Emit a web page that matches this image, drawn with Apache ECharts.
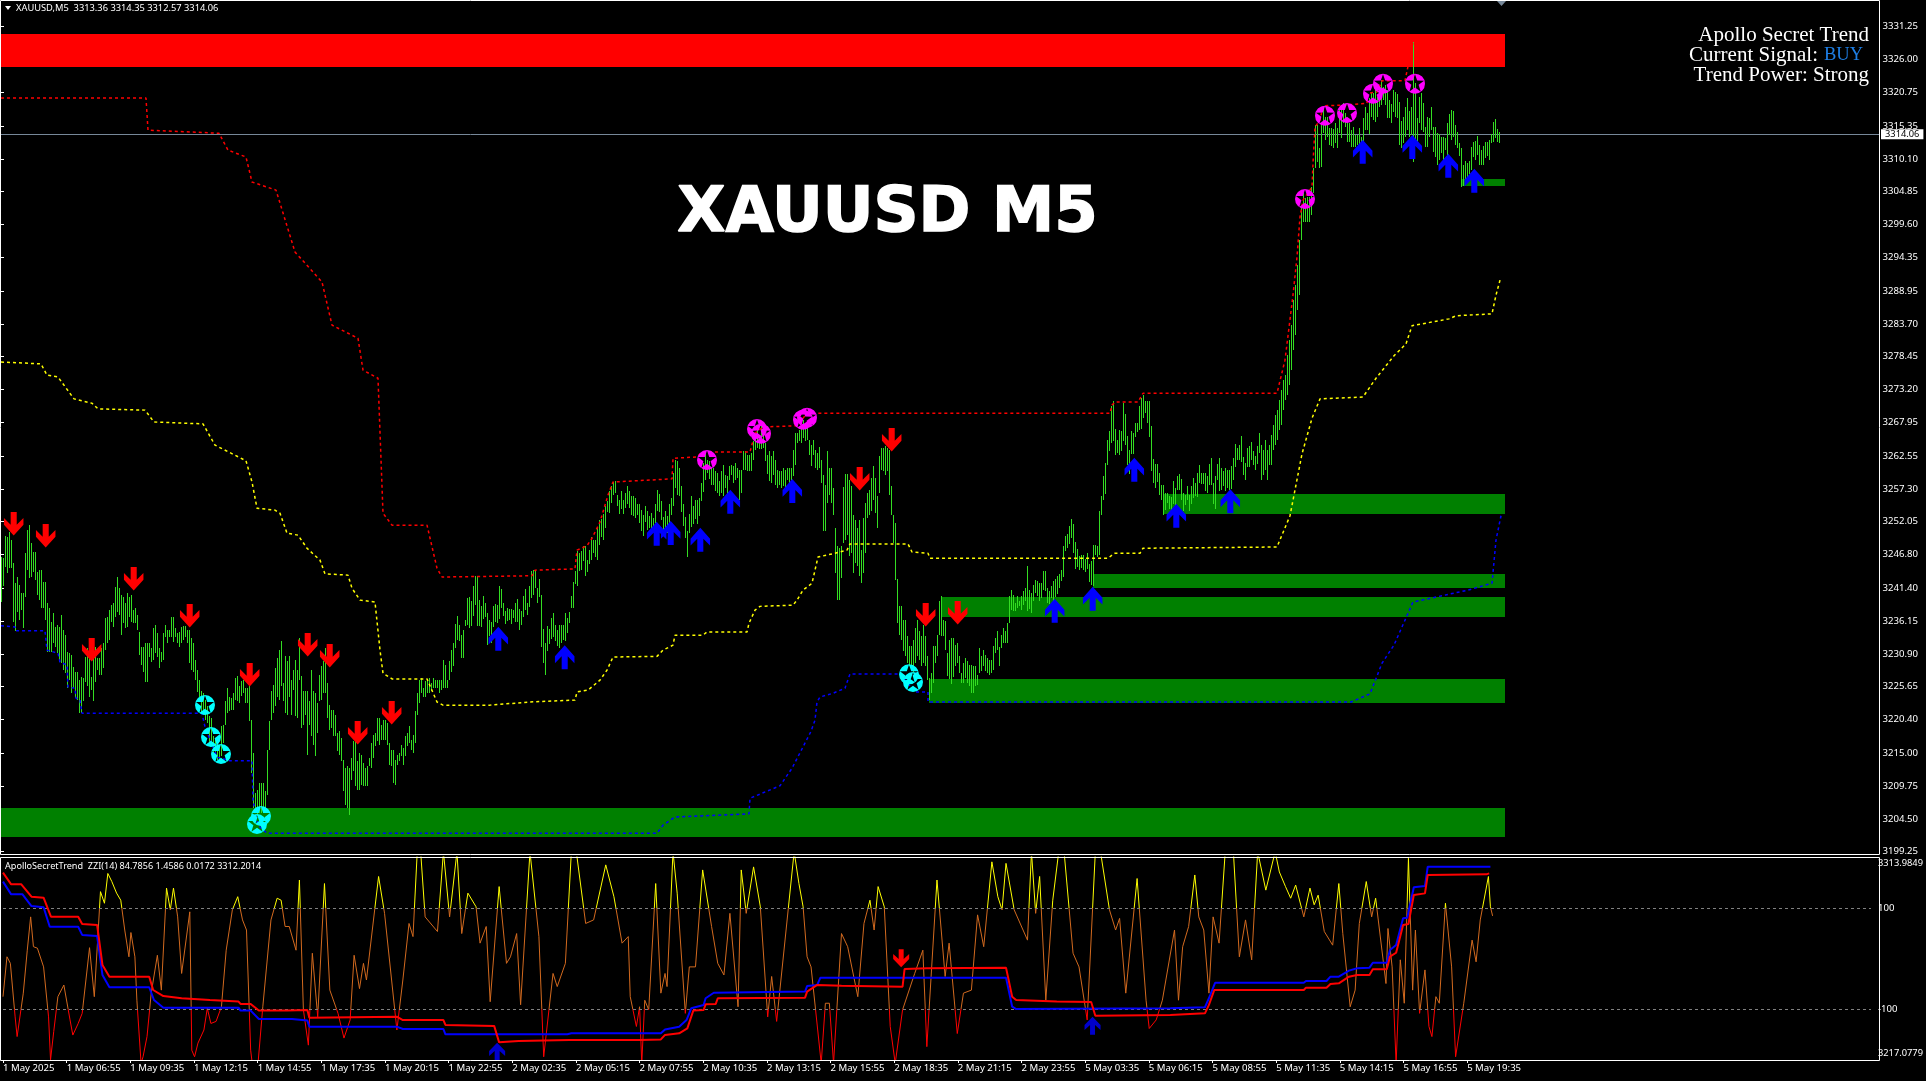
<!DOCTYPE html>
<html><head><meta charset="utf-8">
<style>html,body{margin:0;padding:0;background:#000}#c{width:1926px;height:1081px}</style>
<script src="https://cdn.jsdelivr.net/npm/echarts@6/dist/echarts.min.js"></script>
</head><body><div id="c"></div>
<script>
const priceBase = 3200;
const priceTicks = [3331.25,3326.00,3320.75,3315.35,3310.10,3304.85,3299.60,3294.35,3288.95,3283.70,3278.45,3273.20,3267.95,3262.55,3257.30,3252.05,3246.80,3241.40,3236.15,3230.90,3225.65,3220.40,3215.00,3209.75,3204.50,3199.25];
const timeLabels = ['1 May 2025','1 May 06:55','1 May 09:35','1 May 12:15','1 May 14:55','1 May 17:35','1 May 20:15','1 May 22:55','2 May 02:35','2 May 05:15','2 May 07:55','2 May 10:35','2 May 13:15','2 May 15:55','2 May 18:35','2 May 21:15','2 May 23:55','5 May 03:35','5 May 06:15','5 May 08:55','5 May 11:35','5 May 14:15','5 May 16:55','5 May 19:35'];
const barsPerLabel = 32;
// bar highs and lows, as price minus priceBase, one per M5 bar
const highs = [46.4,46.3,49.7,49.6,50.4,49.1,45.4,42.2,43.2,41.9,40.6,40.6,47,50.7,51.5,48.6,47.2,47.2,44,44.3,44.3,42.4,42.4,39,38.2,36,37.4,35.2,35.5,35.2,37.1,34.7,
33.9,31.2,31,30.7,28.8,28,28,26.7,27.2,27.1,30.4,31.8,30.2,27.2,31.5,32,30.2,30.2,31.8,32.6,36.6,36.8,37.9,38.7,39,41.6,43.2,41.4,40.3,40,39,40.6,
40,40.3,37.9,38.2,37.1,34.4,32,32,32.6,32.6,32.6,31.8,35,35.5,34.2,31.8,31.2,34.2,35.5,34.7,34.7,36.8,36.8,35,34.2,34.4,35.2,35.4,35.4,34.7,34.7,33.4,
32.6,29.9,28.4,26.7,24.9,24.6,23.5,22.5,20.9,20.6,17.7,17.1,16.6,16.3,19.3,19.5,23.3,25.4,24,23.8,24.6,27,27.3,25.7,26.5,26.7,25.4,25.4,25.7,20.3,15,8.6,
9.1,10.2,10.2,10.2,8.9,15.5,20.1,24.9,25.9,28.6,30.2,31.5,32.9,26.2,30.5,29.7,30.5,26.7,28.3,29.9,28.3,33.4,27.3,24.9,24.9,24.9,23.3,28.3,24.9,24.6,23,27.5,
28.9,29.7,31.8,26.2,22.7,21.9,21.9,21.1,18.2,18.5,17.4,13.9,12.6,12.9,12.6,14.2,16.9,17.1,13.7,15,14.7,13.4,12.6,12.9,14.2,16.6,17.9,18.2,20.6,20.6,19.5,20.3,
20.3,19.8,16.6,15.5,15.5,13.9,14.7,15,16.3,15.8,17.7,18.2,19.3,17.1,17.9,21.7,24.6,26.7,27,25.4,26.5,26.7,27,26.2,27,26.7,26.7,26.7,26.7,29.9,29.1,26.7,
29.7,31.5,32.6,35.7,36.9,35.5,33.9,34.7,36.3,39.8,40,39.3,41.7,43.3,43.3,39.5,38.6,40.2,39.1,37.4,36.3,36,38.6,38.9,38.7,41.8,41.3,39,37.7,38.3,38.1,38.1,
37.9,39,39.7,38.1,37.8,40.2,41.3,39,41.8,44.1,44.3,44.3,41.4,42.9,40.4,34.9,32.6,35.4,34.9,36.7,37.5,35.5,34.7,35.5,35.5,35.5,37.5,36.7,37.6,40.1,42.4,44.1,
47.3,47,47.3,48.1,48.2,46,47.5,49.6,49.1,49.1,51.2,52.3,52.5,53.3,54.5,55.3,56.9,57.7,58.4,58.5,56.3,55.6,57,55.6,56.6,57.8,56.9,56.1,56.1,55.8,54.9,54.9,
53.9,53.1,54.6,53.7,52.9,53.5,52.6,54.9,57.1,56.5,55.4,52.8,53.8,52.9,54.9,55.8,59.8,61.9,61.7,60.6,57.7,54.9,52.8,50.6,53.3,56.2,54.5,55.6,55.6,55.9,58.3,61.5,
63.3,61.9,61.7,60.6,60.6,60.1,59.8,58.6,60.1,61.1,59.5,59.3,60.9,61.1,60.9,61.4,60.6,60.3,60.3,63.3,63.3,62.7,62.7,63,64.9,66.2,67.5,65.7,67.3,66.2,64.6,62.7,
63.3,62.5,63.3,61.9,60.3,60.1,60.1,60.6,60.3,60.6,60.6,60.6,63.5,66.2,66.2,66.7,67.5,68.3,67,67,65.1,64.3,65.1,63.5,63,64,61.9,59.5,57.9,63.3,60.6,60.6,
57.4,51,48.1,47.8,48.1,57.6,59.7,59.7,58.7,57.7,53.1,52.3,51,52.3,47.5,52.6,55,56.6,57.1,59,60.9,59,56.1,62.5,63.8,63.8,64.1,63.8,63.5,57.7,53.1,51.8,
42.8,38.5,38.5,36.3,36.3,33.7,32.1,32.2,33.1,35,36.3,34.5,33.7,35.5,33.7,30.5,27,27.8,32.1,32.1,33.9,39.3,40.1,36.3,36.1,31,33.1,33.5,33.5,32.3,32.6,30.5,
27.8,29.4,30.2,29.7,29.1,29.1,28.9,28.9,27.5,31.8,30.5,31.5,30.7,30.2,29.9,29.9,32.1,33.4,34.5,32,33.9,35,34.5,35.8,40.1,41.1,40.3,39,40.1,39.3,40.1,40.9,
41.4,44.9,41.2,40.6,41.9,42.7,42.5,42.2,42.2,44.2,44.2,41.4,41,41.7,42.6,42.9,43.4,43.7,44.3,48.2,49.7,50.1,51.4,52.5,51.7,48.8,47.7,46.5,46.7,46.7,46.1,47.1,
45.3,45.7,48.3,48.3,48.2,53.7,56.2,59.4,61.5,65.1,66.6,70.5,71.3,66.8,65.1,66.7,66.6,71.1,69.3,65.7,63.5,66.5,66.3,67.8,67.9,70.5,71.8,72.3,71.4,71.4,71.4,67.3,
62.1,61.3,61.3,59.9,57.9,57.9,56.6,56.6,56.2,56,58.5,57.4,59.4,59.7,58.9,56.7,56.3,57.7,56.3,57.8,59,58.2,59.9,61.1,59.9,59.9,59.8,59.4,61.3,62.2,58.2,59.4,
61.3,62.2,60.6,60.1,60.6,60.3,60.3,61,62.2,64.5,63.8,64.3,65.8,62.4,61.4,63.9,64.2,64.8,63.4,62.6,64.2,66.2,64.3,63.5,65.1,63.5,64.3,65.9,67.5,69.1,69.9,71.5,
73.1,74.7,75.5,78.7,81.1,83.5,87.5,89.9,93.1,97.1,102.4,104.6,103.8,104,104,105.6,108.6,115.5,115.5,111.8,115.5,118.4,116.8,116.8,115,115,114.9,115.8,115,117.9,118.7,119,
117.4,116,115.8,114.7,115.2,113.9,113.9,115,113.6,116.6,118.4,117.4,119.8,120.6,120.6,121.1,120,121.4,122.7,121.6,121.9,121.1,119.5,118.9,121.1,120.8,120.5,119.2,116.2,116.8,118.4,119.8,
117.8,118.4,128.8,122.2,116.6,120,120.6,119,115.2,116.8,116.6,118.4,115.2,115.2,114.2,114.1,113.6,113.6,113.4,115.8,117.3,117.9,117.8,115.5,114.4,112.6,111.8,109.1,109.8,109.4,109.8,112,
112.8,113,113.8,112.3,111.5,112.2,112.8,112.8,113.1,114.1,116,116.5,114.9,114.4];
const lows = [39.2,41.9,44.8,43.8,44.6,44.6,36,34.6,37.6,36.3,37.9,35,40,44.3,43,43.2,44,42.7,40.3,39.5,38.2,38.2,36.3,31.2,31.2,31.2,32.6,32,31,29.6,29.4,28.3,
27.8,25.4,26.7,24.6,25.4,23.8,23.5,21.4,21.4,23.5,26.4,25.7,24,25.1,23.4,26.4,28.3,27.5,27.5,28.6,31.5,32.6,33.1,36,35.2,36.8,37.6,37.1,33.9,35.8,35,35.2,
36.8,36,35.8,35.8,34.7,30.7,29.1,28,26.4,26.3,30.4,29.6,29.9,31,30.4,28.6,29.6,29.9,33.6,32.6,33.6,33.6,32.8,33.6,32.6,32,32.6,33.1,33.6,32.6,29.4,28.3,
28,26.7,24.9,24,21.4,21.1,20.3,19.8,16.6,16.6,15,14.5,13.9,13.4,14.5,16.6,19.5,21.4,21.7,21.9,21.9,23.5,23.3,23,24.1,24.6,23,23,20.1,11.8,6.2,5.4,
4.9,5.4,5.4,5.4,5.4,8.3,15.5,20.3,21.4,22.5,24,23.5,25.7,23.3,21.4,21.1,24,21.1,25.1,20.9,20.6,26.7,19,19.5,21.1,14.7,19.5,17.7,16.3,14.5,18.2,23.3,
23.5,24.6,24.6,20.6,18.7,19,17.7,17.7,15.3,14.7,13.7,8.9,6.7,6.2,5.1,10.7,12.1,9.7,9.1,9.1,9.9,9.7,9.7,9.7,12.9,12.6,14.2,16.1,16.9,16.3,17.1,17.1,
17.1,16.3,13.1,12.9,10.2,9.9,13.1,13.7,14.5,13.1,14.5,16.1,16.6,15.5,15,16.6,21.1,23,24.6,24,24,24.6,24.6,24.9,25.4,25.4,25.4,24.6,25.1,25.4,25.4,25.4,
26.7,28,28.9,31.8,33.1,32.9,30.2,30.2,35.3,35.5,35,35.3,36.9,38.7,35.3,35.3,35.3,36.6,36.9,32.3,33.7,32.6,35.3,36,35.8,36.6,38.2,36.9,35.7,36.3,36.3,35.7,
36.6,36,36,34.7,35.5,36.9,37.9,37.1,38.5,39.8,40.3,41.4,39,40.1,32.1,29.5,27.5,31.4,32.5,33.4,33.7,33,32.1,31.8,32.6,33.1,33.1,34.3,35.8,38.2,38.2,42.1,
41.7,44.1,44.3,45.7,43.4,44.1,45.3,45.9,47.1,46.4,45.9,48.3,49.6,49.1,51,53.5,53.4,55,56.3,56.6,54.5,53.3,54.2,53.3,54.2,55,54.2,53.1,52.9,52.6,53.1,51.8,
50.5,49.7,52.1,50.7,51,50.7,50.5,51.8,53.7,53.7,52.3,49.9,50.5,50.2,51.5,53.1,54.5,57.5,56.3,56.2,53.5,51.3,49.4,46.5,50.2,51.3,51.7,52.6,51.8,53.1,55.5,56.9,
58.7,59.8,58.8,57.9,57.9,56.9,56.6,56.2,56.6,56.1,57.4,56.1,58.7,59.5,58.2,58.7,59,55.5,56.6,60.2,60.2,60.2,60.2,60.2,61.9,63.5,63.8,63.7,63.6,63.8,61.7,59.7,
58.5,58.2,59.5,57.9,57.4,57.9,57.4,57.7,57.4,58.7,58.2,58.7,59.3,61.1,64.6,64.9,64.6,65.4,64.9,65.1,62.7,60.9,62.7,60.6,60.3,60.6,58.2,50.5,50.5,55,56.3,55,
53.1,43.8,39.5,39.5,43,48.6,49.1,49.9,46.5,47,43.8,45.4,44.9,43.3,42.2,43.8,47,52.6,53.1,53.7,55.5,53.4,51,56.6,60.3,60.1,59.5,60.1,56.3,53.1,48.6,42.7,
35.8,33.9,33.1,31.3,30.5,29.4,28.9,28.3,28,29.4,30.5,29.9,28.9,29.4,28.9,26.7,23.5,24.6,26.2,29.4,30.5,33.9,33.7,33.7,31.5,27.3,26.8,26.2,27.3,28.9,29.4,27.8,
26.2,26.2,27,26.2,25.7,24.6,24.6,25.7,25.9,27.8,28.1,28.9,28.1,27.8,27.5,27.8,28.3,31,31.5,29,31.8,32.6,32.6,32.6,35.8,37.9,37.7,37.7,38.2,38.5,37.8,38.7,
39.4,37.7,38.2,37.4,39.3,40.6,40.1,39.4,39.8,41.1,41,39,39,39.8,39.3,40.1,40.6,41.4,42.5,43.3,47.3,47.8,48.6,49.4,47,44.5,44.9,44.2,44.6,44.3,44.1,44.5,
42.5,41.8,41.7,46.7,46.5,46.7,53.1,55.5,56.5,61.1,63.4,64.6,64.9,62.7,63,62.7,63.4,65.1,64.3,61.1,59.7,62.9,62.9,65.6,66.5,66.7,66.8,68.6,69.5,67.8,65.7,60.1,
58.3,57.4,58.5,56.3,55.5,53.1,53.9,55,54.2,53.9,54.9,54.5,57.1,57.1,55.5,53.9,54.7,55.5,53.7,55,55.8,56.1,56.1,58.2,58.2,58.1,56.9,56.7,57.9,57.9,54.9,54.2,
58.7,56.9,57.1,57.7,56.9,57.4,57.1,57.4,58.7,60.9,61.9,61.9,61.7,59.5,58.7,60.8,60.8,61.9,61.1,60.3,61.4,63,58.7,59.5,60.3,58.7,61.1,61.1,63.5,64.3,65.1,66.7,
67.5,69.9,71.5,72.3,73.9,76.3,79.5,81.9,85.9,88.3,97.1,100,100,100,100,101.1,104.6,108.6,109.6,108.6,108.8,114.2,113.1,113.6,112.3,112.2,111.8,112.6,111.8,114.2,113.4,115.8,
115.2,112.8,112.8,112,112,112,112.3,112.3,112.3,112.8,114.7,114.7,114.1,116.8,116.3,116,116.8,118.4,118.7,119.5,118.7,116.6,116.6,115.8,117.6,116.8,116.6,112.3,111.8,112.6,113.6,114.7,
113.6,113.9,109.6,112.3,112.6,115.8,114.7,114.4,112,112,113.6,114.7,111.2,110.4,109.1,109.9,111,109.6,111.5,110.2,113.9,113.1,113.6,112.3,111.8,110.6,105.6,105.8,105.9,107.2,107.8,108.3,
110.4,109.9,110.7,109.1,109.1,109.1,110.2,110.6,109.9,112.6,112.8,113.4,112.8,112.6];
// supply and demand zones: first bar, upper price, lower price
const redZones = [[0,3330.08,3324.8]];
const greenZones = [[0,3206.2,3201.65],[464,3226.9,3223.05],[470,3240.0,3236.8],[546,3243.7,3241.45],[581,3256.5,3253.3],[730.5,3306.9,3305.75]];
const zoneEndBar = 752;
// dotted levels: bar, price minus priceBase
const upperLevel = [[0,119.84],[72.5,119.84],[73.5,114.7],[109,114.2],[113.5,111.5],[122.5,110.4],[125.5,106.4],[137.5,105.1],[147,95.2],[160.5,90.4],[165.5,83.5],[178.5,81.4],[181,76.3],[188.5,75],[191,53.4],[195.5,51.5],[213,51.5],[218,44.6],[220.5,43.2],[265.5,43.4],[267,44.3],[287,44.5],[288,47.5],[293,48.2],[295.5,49.4],[299.5,52],[303.5,56.3],[306,58.4],[335.5,58.9],[336,62.2],[348,62.4],[350.5,63.2],[374.5,63.2],[377,66.2],[381,67.2],[398,67.4],[403,69.4],[554.5,69.4],[555.5,70.7],[557,71.2],[568.5,71.2],[571,72.6],[638,72.6],[642,77.9],[646,88.3],[648,94.4],[649.5,100.8],[651,103.5],[655.5,105.6],[656,109.4],[657,115.2],[659.5,116.3],[661,118.6],[671,118.7],[683,119],[683.5,120.6],[688,120.8],[690.5,122.6],[702,122.6],[706,128.8],[749.5,128.8]];
const middleLevel = [[0,77.6],[20,77.3],[23,75.5],[28.5,75.2],[36.5,71.7],[45.5,71],[48.5,70.1],[72,69.9],[76.5,68],[101,67.7],[107,64.3],[122.5,61.8],[125.5,58.4],[128,54.2],[137,53.9],[139.5,53.4],[143,50.2],[148.5,49.9],[153,47.8],[159.5,45.9],[162,43.7],[173.5,43.5],[175.5,41.4],[179.5,39.5],[187,39.2],[189.5,31.5],[191,27.8],[195.5,26.9],[213,26.9],[218,23.2],[221,22.7],[244.5,22.7],[264.5,23.2],[287,23.5],[288,24.8],[293.5,25.1],[299.5,26.7],[303,28.3],[306,30.4],[328,30.5],[331,31.5],[336,32.3],[337,33.9],[351,33.9],[353,34.4],[373,34.4],[374,35.8],[377,37.9],[379.5,38.5],[396,38.7],[398,39.5],[401,41.1],[405.5,42.2],[407,44.3],[408.5,46.4],[417,47],[423,47.5],[424.5,48.5],[453.5,48.5],[455.5,47.2],[463.5,47],[464.5,46.2],[553.5,46.2],[555.5,46.7],[557,47],[569.5,47],[571,47.8],[638,48],[644.5,53],[650.5,62.9],[655.5,68.6],[659.5,71.7],[681,72],[687.5,75],[696.5,78.6],[702.5,80.5],[705.5,83.4],[724,84.5],[727.5,85],[745.5,85.3],[747.5,88.3],[749.5,90.7]];
const lowerLevel = [[0,35.4],[7,35.2],[7.5,34.6],[22,34.6],[23,31.5],[28.5,31],[29.5,29.6],[33,29.1],[33.5,25.6],[37,25.4],[37.5,23.8],[39.5,23.5],[40.5,21.4],[100.5,21.4],[102,19.2],[108,14.4],[114.5,13.8],[125.5,13.8],[126,7.5],[128.5,3.5],[133,2.2],[328,2.2],[331,3.5],[337,4.8],[374,5.3],[374.5,7.8],[389.5,9.8],[395.5,12.6],[405,18.5],[407,20.3],[408,23.2],[409.5,24],[416,24.6],[422,25.4],[424.5,27.7],[449.5,27.7],[457,24.8],[463.5,24.8],[463.5,23.2],[675,23.2],[684.5,24.5],[690.5,29.4],[696.5,32.3],[706,39.2],[733.5,41.1],[745.5,42.2],[747.5,49.1],[750,53]];
// signals: bar, price
const sellArrows = [[6.35,3251.73],[22.35,3249.81],[66.35,3242.93],[94.35,3237.01],[45.35,3231.57],[124.35,3227.57],[153.35,3232.37],[164.35,3230.61],[178.35,3218.29],[195.35,3221.49],[429.35,3258.93],[445.35,3265.17],[462.35,3237.17],[478.35,3237.49]];
const buyArrows = [[248.65,3233.33],[281.85,3230.35],[327.85,3250.13],[334.85,3250.25],[349.65,3249.17],[364.65,3255.25],[395.65,3256.96],[526.85,3237.81],[545.85,3239.73],[566.65,3260.37],[587.65,3253.01],[614.65,3255.31],[680.85,3311.25],[705.65,3312.0],[723.65,3309.01],[736.65,3306.61]];
const cyanStars = [[102,3222.72],[105,3217.6],[110,3214.88],[130,3204.96],[128,3203.68],[454,3227.63],[456,3226.4]];
const magentaStars = [[353,3261.92],[378,3266.88],[380,3266.13],[401,3268.37],[403,3268.69],[652,3303.68],[662,3317.01],[673,3317.44],[686,3320.53],[691,3322.13],[707,3322.13]];
const lastPrice = 3314.06;
// lower panel
const cciValues = [[0,-75],[2,4],[3.7,-9],[6.1,-115],[7.1,-154],[10.2,-68],[12.2,17],[13.9,83],[15.3,24],[17.3,21],[20.4,-16],[22.9,-115],[23.9,-200],[25.5,-144],[27.6,-75],[30.6,-52],[33.7,-121],[35.1,-151],[37.8,-128],[39.8,-108],[43.5,22],[45.9,-75],[49,133],[51,110],[52.7,169],[54.7,153],[57.1,130],[59.2,116],[61.2,57],[63.3,4],[64.3,52],[66.3,4],[67.3,-82],[69.4,-207],[70.4,-194],[72.4,-154],[74.5,-68],[77.6,7],[79.6,-62],[82.2,140],[84.1,97],[85.7,140],[87.8,83],[89.8,-29],[93.9,93],[94.9,-181],[96.3,-194],[98,-167],[101,-141],[102.7,-98],[104.5,-128],[107.1,-124],[109.8,-95],[112.2,17],[115.3,97],[118,123],[120.4,77],[122.4,57],[124.5,-181],[125.5,-214],[128.2,-207],[130.6,-95],[134.7,77],[137.8,120],[139.8,116],[141.8,64],[143.9,64],[147.3,17],[149,156],[151,-101],[153.5,-171],[155.5,11],[158.2,-115],[161.6,149],[164.3,-62],[168.4,-108],[171.4,-157],[174.5,-121],[176.5,7],[179.2,-59],[181.2,-9],[182.7,-42],[188.8,163],[191.8,90],[198,-141],[201,-42],[204.1,70],[206.1,44],[208.2,209],[210,209],[212.2,83],[218.4,54],[221.4,212],[224.5,83],[228.2,212],[230.6,50],[233.7,130],[237.8,103],[239.8,31],[242.9,64],[244.9,-85],[249.4,143],[253.1,-9],[255.1,4],[258.2,50],[260.2,-91],[264.9,212],[269.4,44],[271.8,-194],[276.5,-29],[278.6,-55],[282.7,-9],[285.7,212],[288.2,212],[292.9,70],[296.9,77],[303,186],[307.1,123],[311.2,31],[314.3,44],[315.3,-75],[318.4,-134],[320,-95],[321.1,-207],[322.6,-82],[324.6,-101],[328.1,149],[330.7,-68],[332.8,-29],[333.8,-55],[336.8,212],[338.9,130],[343,-108],[345,-16],[348.1,-16],[351.7,176],[356.2,64],[359.3,-9],[362.4,-32],[365.4,90],[369.5,-95],[371.1,176],[373.6,90],[377.3,182],[380.7,103],[384.4,-115],[386.4,-35],[388.9,-124],[397.7,212],[400.1,149],[402.2,103],[404.2,4],[406.2,-16],[411.3,-207],[413.4,-88],[415.4,-88],[417.5,-207],[421.5,50],[424.6,24],[429.7,-75],[432.8,70],[435.8,116],[437.9,57],[439.9,143],[443,103],[446,-134],[448.5,-207],[452.2,-101],[458.3,-29],[462.4,17],[464.4,-174],[469.5,156],[473.6,-35],[475.6,31],[479.7,-148],[482.8,-68],[486.8,-62],[489.9,87],[493,24],[497.1,192],[500.1,123],[502.2,97],[504.2,189],[508.3,97],[515,37],[517,212],[519.1,90],[521.1,163],[524.2,-82],[527.7,116],[530.7,212],[533.4,212],[537.9,11],[540.9,-16],[545,-121],[549.1,212],[551.7,212],[556.2,97],[559.3,57],[561.3,80],[564.4,-68],[570.1,159],[574.6,-82],[576.2,-138],[579.7,-121],[582.8,-82],[588.9,57],[590.9,-82],[593,24],[596,64],[599.1,166],[601.1,83],[603.6,57],[606.2,-68],[608.3,83],[611.3,31],[614.4,212],[618.5,212],[621.5,4],[624.6,77],[627.7,-2],[630.7,212],[634.8,136],[639.5,212],[641.6,172],[644.7,143],[647.3,120],[649.8,146],[653.9,83],[657,140],[659.1,107],[661.1,126],[664.2,54],[668.4,27],[671.5,149],[673.5,50],[677.2,-95],[679.7,-62],[681.8,70],[685.3,153],[688,83],[690,120],[695.2,-49],[696.2,60],[698.3,-16],[700.3,-207],[702.4,-2],[704.4,-88],[706.5,199],[708.6,-62],[710,57],[712.1,-108],[714.8,-22],[716.8,-134],[718.3,-154],[720.3,-75],[722,-88],[725.1,110],[728.2,-16],[730.2,-194],[734.3,-88],[738.5,37],[740.5,-6],[742.6,77],[746.7,163],[747.7,103],[748.8,85]];
const redRibbon = [[0,109.05],[4.1,103.1],[9.2,103.1],[14.3,96.8],[20.4,96.3],[24.1,86.6],[37.8,86.6],[39.8,82.9],[47.3,82.4],[50,62],[53.5,56],[73.5,56],[75.5,49.2],[80.6,46.1],[89.8,45],[104,44.1],[118.4,43.3],[119.4,42.1],[124.5,42.1],[128.6,38.7],[142.9,38.7],[153,39],[154,35.1],[198,35.6],[201,33.9],[221.4,33.9],[222.4,31.4],[246.9,30.9],[249.4,22.5],[259.2,23.2],[284.7,23.7],[320,23.7],[330.7,24],[332.8,26.3],[339.9,27.1],[344,29.6],[347,38.7],[352.2,39],[353.2,41.9],[358.3,42.1],[359.3,45],[403.2,45.3],[404.2,48.4],[409.3,51.8],[421.5,51.4],[452.2,50.9],[453.2,59.9],[464.4,60.3],[504.2,60.6],[507.3,45.8],[509.3,44.1],[529.7,43.3],[547,43.1],[549.1,36.1],[586.8,36.5],[604.2,37.3],[606.2,41.6],[608.9,49.2],[639.5,49.2],[653.9,49.2],[655,50.4],[665.3,50.4],[667.3,52.3],[671.5,52.6],[676.6,56],[680.7,56.9],[686.9,56.9],[688.6,59.8],[695.6,59.8],[697.2,66.2],[700.3,68.2],[703.8,82.4],[706.5,82.9],[709.2,97.7],[714.8,98.5],[716.2,107.9],[745.7,108.2],[747.1,108.7]];
const blueRibbon = [[0,104.5],[4.1,98],[9.8,98],[14.3,92],[20.4,91.4],[23.5,81.5],[37.8,81.5],[39.8,77.3],[47.3,76.7],[50,56.9],[53.5,50.6],[73.5,50.6],[75.9,44.1],[80.6,40.2],[118.4,40.2],[119.4,38.7],[124.5,38.7],[128.6,34.4],[145.3,34.4],[153,33.6],[154,30.5],[198,30.5],[201,29.3],[221.4,29.3],[222.4,26.6],[283.7,26.6],[285.7,27.1],[320,27.1],[330.7,27.1],[332.8,29.1],[339.9,30.5],[343.6,33.9],[346,39.9],[352.2,41.6],[353.2,45],[357.3,47.8],[403.2,48.4],[404.2,51.2],[409.3,51.8],[410.9,55.5],[504.2,55.5],[507.3,40.7],[509.3,39.5],[586.8,39.9],[604.2,40.4],[606.2,45],[609.3,52.9],[639.5,52.9],[653.9,52.9],[655,53.8],[665.3,53.8],[667.3,56],[671.5,56],[676.6,59.1],[680.7,60.3],[686.9,60.6],[688.6,63.1],[695.6,63.1],[697.2,69.6],[700.3,72.2],[703.8,85.8],[705.9,86.1],[709.2,101.6],[714.8,102.2],[716.2,112.1],[747.7,112.1]];
const panelBuyArrows = [[248.4,3217.76],[547.7,3231.0]];
const panelSellArrows = [[451.5,3265.4]];
const cciTicks = [100,-100];
const panelPriceTicks = [3313.9849,3217.0779];

const lastBarSlot = 939;
const withBase = a => a.map(p => [p[0], p[1] + priceBase]);
const UI = '"Noto Sans", sans-serif';
const arrowDown = 'path://M20 0L38 0L38 38L58 18L58 38L29 70L0 38L0 18L20 38Z';
const arrowUp = 'path://M29 0L58 32L58 52L38 32L38 70L20 70L20 32L0 52L0 32Z';
const starBadge = 'path://M10 0A10 10 0 1 1 10 20A10 10 0 1 1 10 0ZM10 0.5L7.77 6.93L0.97 7.06L6.39 11.17L4.42 17.69L10 13.8L15.58 17.69L13.61 11.17L19.03 7.06L12.23 6.93Z';

const barData = highs.map((h, i) => [i, h + priceBase, lows[i] + priceBase]);
const renderBar = (params, api) => {
  const top = api.coord([api.value(0), api.value(1)]);
  const bot = api.coord([api.value(0), api.value(2)]);
  return { type:'rect', shape:{ x:Math.round(top[0]), y:Math.round(top[1]), width:1, height:Math.max(1,Math.round(bot[1]-top[1])) },
           style:{ fill:'#33dd22' } };
};
const renderZone = color => (params, api) => {
  const a = api.coord([api.value(0), api.value(1)]);
  const b = api.coord([zoneEndBar, api.value(2)]);
  return { type:'rect', shape:{ x:a[0], y:Math.round(a[1]), width:b[0]-a[0], height:Math.round(b[1])-Math.round(a[1]) }, style:{ fill:color } };
};
const dotted = (data, color) => ({ type:'line', data:withBase(data), xAxisIndex:0, yAxisIndex:0, showSymbol:false, symbol:'none', silent:true, z:4,
  lineStyle:{ color, width:1.5, type:[3,3] } });
const marks = (data, symbol, size, color, xi, yi, z) => ({ type:'scatter', data, symbol, symbolSize:size, xAxisIndex:xi, yAxisIndex:yi, silent:true, z,
  itemStyle:{ color, opacity:1 } });
const timeTicks = timeLabels.map((_, i) => i * barsPerLabel);

const option = {
  animation:false, backgroundColor:'#000',
  grid:[ { left:1, top:1, width:1878, height:853 }, { left:1, top:857, width:1878, height:203 } ],
  xAxis:[
    { type:'value', gridIndex:0, min:0, max:lastBarSlot, show:false, splitLine:{show:false} },
    { type:'value', gridIndex:1, position:'bottom', min:0, max:lastBarSlot, splitLine:{show:false}, axisLine:{show:false, onZero:false},
      axisTick:{ show:true, customValues:timeTicks, length:3, lineStyle:{color:'#fff'} },
      axisLabel:{ show:true, customValues:timeTicks, color:'#fff', fontFamily:UI, fontSize:9.6, margin:3, align:'left',
        formatter:v => timeLabels[Math.round(v / barsPerLabel)] } }
  ],
  yAxis:[
    { type:'value', gridIndex:0, position:'right', min:3198.88, max:3335.36, splitLine:{show:false}, axisLine:{show:false},
      axisTick:{ show:true, customValues:priceTicks, length:3, lineStyle:{color:'#fff'} },
      axisLabel:{ show:true, customValues:priceTicks, color:'#fff', fontFamily:UI, fontSize:9.6, margin:3.5, hideOverlap:false, padding:[2,0,0,0], formatter:v => v.toFixed(2) } },
    { type:'value', gridIndex:1, position:'right', min:-200.4, max:201.6, splitLine:{show:false}, axisLine:{show:false}, axisTick:{show:false},
      axisLabel:{ show:true, customValues:cciTicks, color:'#fff', fontFamily:UI, fontSize:9.6, margin:7, formatter:v => String(v) } },
    { type:'value', gridIndex:1, position:'right', min:3213.5, max:3317.05, splitLine:{show:false}, axisLine:{show:false}, axisTick:{show:false},
      axisLabel:{ show:true, customValues:panelPriceTicks, color:'#fff', fontFamily:UI, fontSize:9.3, margin:7, formatter:v => v.toFixed(4) } }
  ],
  visualMap:[ { show:false, type:'piecewise', seriesIndex:11, dimension:1,
    pieces:[ {gt:100, color:'#ffff00'}, {gte:-100, lte:100, color:'#d2691e'}, {lt:-100, color:'#ff0000'} ] } ],
  series:[
    { type:'custom', name:'Sell zones', data:redZones, xAxisIndex:0, yAxisIndex:0, renderItem:renderZone('#ff0000'), silent:true, z:1 },
    { type:'custom', name:'Buy zones', data:greenZones, xAxisIndex:0, yAxisIndex:0, renderItem:renderZone('#008000'), silent:true, z:1 },
    { type:'custom', name:'XAUUSD', data:barData, xAxisIndex:0, yAxisIndex:0, renderItem:renderBar, silent:true, z:3,
      encode:{x:0,y:[1,2]},
      markLine:{ silent:true, symbol:'none', animation:false, z:3,
        lineStyle:{ color:'#778899', type:'solid', width:1 },
        label:{ show:true, position:'end', distance:2, formatter:lastPrice.toFixed(2), color:'#000', backgroundColor:'#fff', padding:[1,4,0,4], fontFamily:UI, fontSize:9.3 },
        data:[{ yAxis:lastPrice }] } },
    dotted(upperLevel,'#ff0000'), dotted(middleLevel,'#ffff00'), dotted(lowerLevel,'#0000ff'),
    marks(cyanStars, starBadge, 20, '#00ffff', 0, 0, 5),
    marks(magentaStars, starBadge, 20, '#ff00ff', 0, 0, 5),
    marks(sellArrows, arrowDown, [19.5,23.5], '#ff0000', 0, 0, 6),
    marks(buyArrows, arrowUp, [19.5,24], '#0000ff', 0, 0, 6),
    { type:'line', name:'CCI levels', data:[], xAxisIndex:1, yAxisIndex:1, silent:true,
      markLine:{ silent:true, symbol:'none', label:{show:false}, lineStyle:{ color:'#808080', type:[3,3], width:1 }, data:cciTicks.map(v => ({yAxis:v})) } },
    { type:'line', name:'CCI', data:cciValues, xAxisIndex:1, yAxisIndex:1, showSymbol:false, symbol:'none', silent:true, z:4, lineStyle:{ width:1 } },
    { type:'line', name:'Blue', data:withBase(blueRibbon), xAxisIndex:1, yAxisIndex:2, showSymbol:false, symbol:'none', silent:true, z:5, lineStyle:{ color:'#0000ff', width:2 } },
    { type:'line', name:'Red', data:withBase(redRibbon), xAxisIndex:1, yAxisIndex:2, showSymbol:false, symbol:'none', silent:true, z:5, lineStyle:{ color:'#ff0000', width:2 } },
    Object.assign(marks(panelBuyArrows, arrowUp, [16,18], '#0000cc', 1, 2, 6), {clip:true}),
    Object.assign(marks(panelSellArrows, arrowDown, [16,18], '#ff0000', 1, 2, 6), {clip:true})
  ],
  graphic:[
    { type:'rect', z:10, silent:true, shape:{x:0.5,y:0.5,width:1879,height:854}, style:{fill:null,stroke:'#fff',lineWidth:1} },
    { type:'rect', z:10, silent:true, shape:{x:0.5,y:857.5,width:1879,height:203}, style:{fill:null,stroke:'#fff',lineWidth:1} },
    { type:'polygon', z:11, silent:true, shape:{points:[[5,6],[11,6],[8,10]]}, style:{fill:'#fff'} },
    { type:'polygon', z:11, silent:true, shape:{points:[[1497,1],[1506,1],[1501.5,6]]}, style:{fill:'#778899'} },
    { type:'text', z:12, silent:true, x:16, y:8, style:{ text:'XAUUSD,M5  3313.36 3314.35 3312.57 3314.06', fill:'#fff', font:'9.3px '+UI, textAlign:'left', textVerticalAlign:'middle' } },
    { type:'text', z:12, silent:true, x:5, y:866, style:{ text:'ApolloSecretTrend  ZZI(14) 84.7856 1.4586 0.0172 3312.2014', fill:'#fff', font:'9.1px '+UI, textAlign:'left', textVerticalAlign:'middle' } },
    { type:'text', z:12, silent:true, x:887.5, y:215, style:{ text:'XAUUSD M5', fill:'#fff', stroke:'#fff', lineWidth:1.5, font:'bold 62.5px "DejaVu Sans"', textAlign:'center', textVerticalAlign:'middle' } },
    { type:'text', z:12, silent:true, x:1869, y:35.5, style:{ text:'Apollo Secret Trend', fill:'#fff', font:'21px "Liberation Serif"', textAlign:'right', textVerticalAlign:'middle' } },
    { type:'text', z:12, silent:true, x:1818, y:55.5, style:{ text:'Current Signal:', fill:'#fff', font:'21px "Liberation Serif"', textAlign:'right', textVerticalAlign:'middle' } },
    { type:'text', z:12, silent:true, x:1863, y:55.5, style:{ text:'BUY', fill:'#1e7fe6', font:'18.5px "Liberation Serif"', textAlign:'right', textVerticalAlign:'middle' } },
    { type:'text', z:12, silent:true, x:1869, y:75.5, style:{ text:'Trend Power: Strong', fill:'#fff', font:'21px "Liberation Serif"', textAlign:'right', textVerticalAlign:'middle' } }
  ]
};
const chart = echarts.init(document.getElementById('c'), null, {renderer:'canvas', width:1926, height:1081});
chart.setOption(option);
</script></body></html>
